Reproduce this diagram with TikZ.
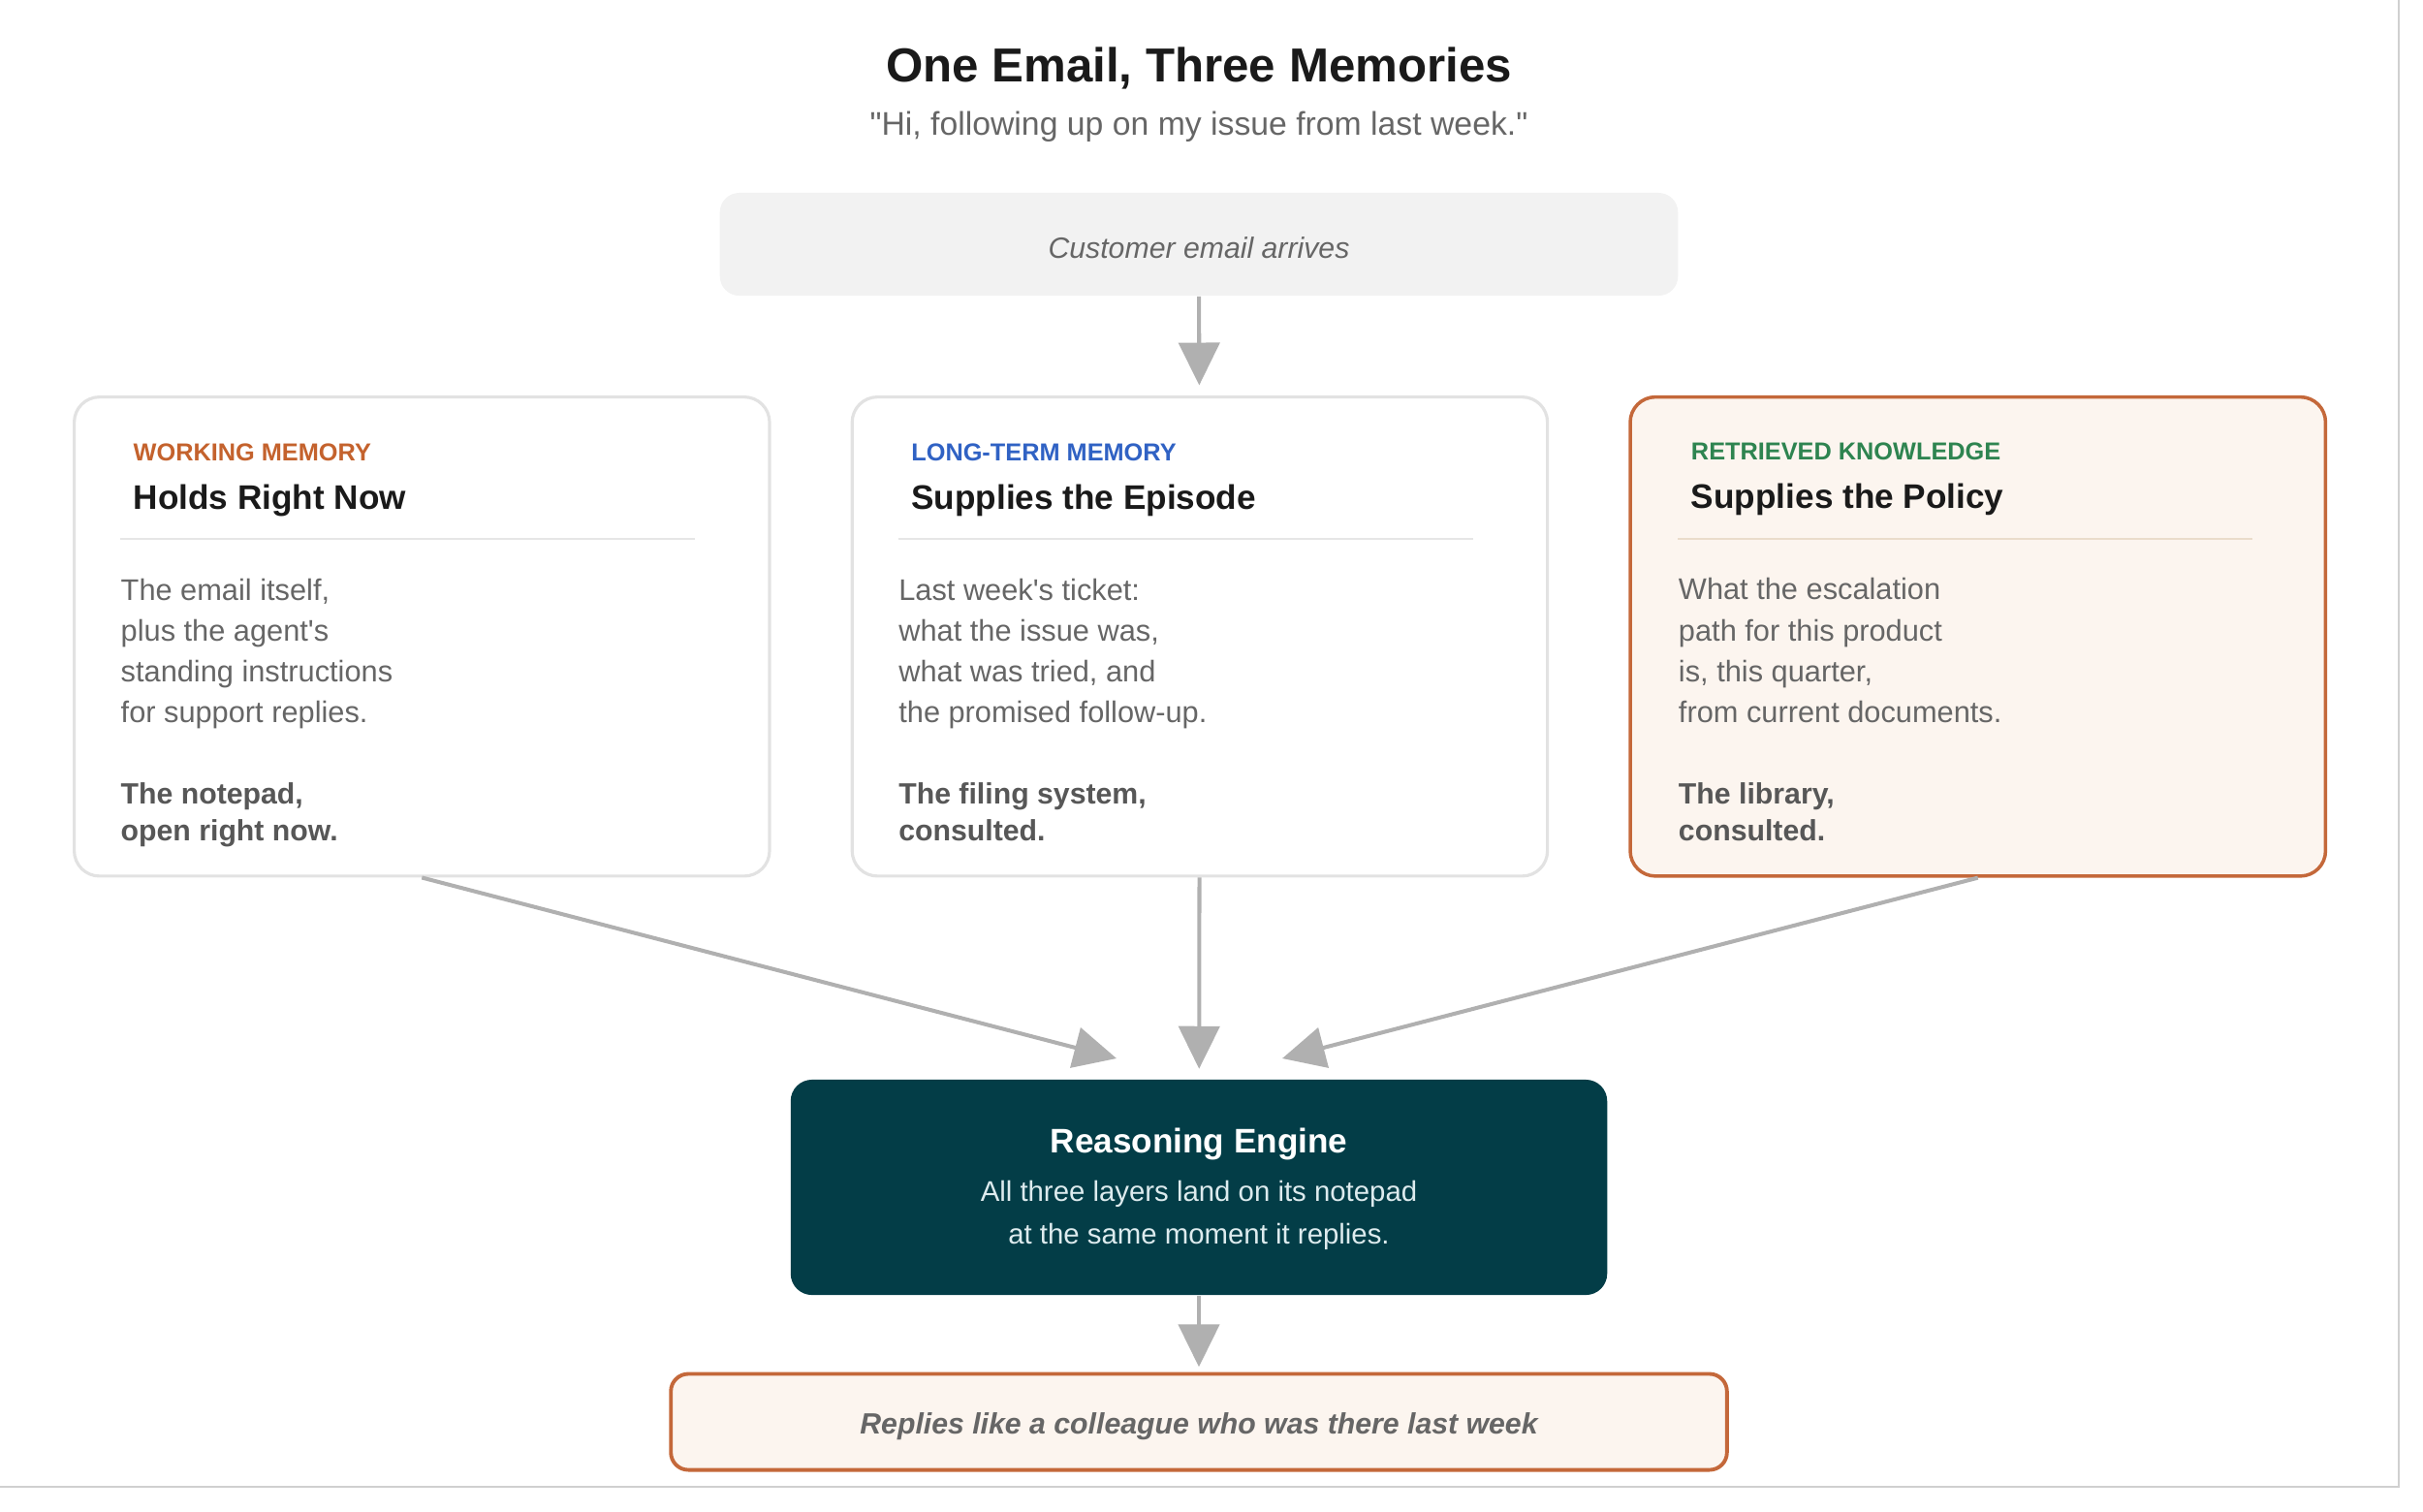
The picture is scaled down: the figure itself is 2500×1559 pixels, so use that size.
\documentclass[tikz,border=0pt]{standalone}
\usepackage{fontspec}
\setmainfont{Liberation Sans}
\usetikzlibrary{arrows.meta,positioning}

\definecolor{ink}{HTML}{1A1A1A}
\definecolor{muted}{HTML}{666666}
\definecolor{footgray}{HTML}{575757}
\definecolor{cardline}{HTML}{E2E2E2}
\definecolor{rust}{HTML}{C4683A}
\definecolor{rustfill}{HTML}{FCF5EF}
\definecolor{wmcol}{HTML}{C4622D}
\definecolor{ltcol}{HTML}{3062C4}
\definecolor{rkcol}{HTML}{2E8450}
\definecolor{engfill}{HTML}{033D47}
\definecolor{engtext}{HTML}{DDEBEE}
\definecolor{arrowgray}{HTML}{B0B0B0}
\definecolor{emailfill}{HTML}{F2F2F2}
\definecolor{rulegray}{HTML}{E6E6E6}
\definecolor{rulebeige}{HTML}{EADCCB}
\definecolor{framegray}{HTML}{D0D0D0}

\begin{document}
\begin{tikzpicture}[x=0.01cm, y=-0.01cm,
	card/.style={draw=cardline, line width=0.9pt, fill=white, rounded corners=0.26cm,
		minimum width=7.17cm, minimum height=4.94cm, inner sep=0},
	tag/.style={anchor=base west, inner sep=0, font=\bfseries\fontsize{7.2}{9}\selectfont},
	head/.style={anchor=base west, inner sep=0, text=ink, font=\bfseries\fontsize{10}{12}\selectfont},
	body/.style={anchor=north west, inner sep=0, align=left, text=muted, font=\fontsize{8.75}{12}\selectfont},
	foot/.style={anchor=north west, inner sep=0, align=left, text=footgray, font=\bfseries\fontsize{8.6}{10.8}\selectfont},
	feed/.style={draw=arrowgray, line width=1.15pt, -{Triangle[length=12.5pt, width=12pt]}},
	]
	
	\useasboundingbox (0,0) rectangle (2500,1559);
	\draw[framegray, line width=0.6pt] (2475,0) -- (2475,1534) -- (0,1534);
	
	% heading
	\node[anchor=base, inner sep=0, text=ink, font=\bfseries\fontsize{14}{17}\selectfont] (title) at (1237,84) {One Email, Three Memories};
	\node[anchor=base, inner sep=0, text=muted, font=\fontsize{9.6}{12}\selectfont] (quote) at (1237,139) {\textquotedbl Hi, following up on my issue from last week.\textquotedbl};
	
	\node[fill=emailfill, rounded corners=0.2cm, minimum width=9.88cm, minimum height=1.06cm, inner sep=0] (email) at (1237,252) {};
	\node[anchor=base, inner sep=0, text=muted, font=\itshape\fontsize{8.6}{10}\selectfont] (emailText) at (1237,266) {Customer email arrives};
	
	% the three memories
	\node[card, anchor=north west] (wm) at (75,408) {};
	\node[card, right=0.82cm of wm] (lt) {};
	\node[card, right=0.82cm of lt, draw=rust, line width=1pt, fill=rustfill] (rk) {};
	
	\node[tag, text=wmcol] (wmTag) at ([shift={(62,67)}]wm.north west) {WORKING MEMORY};
	\node[head] (wmHead) at ([shift={(62,117)}]wm.north west) {Holds Right Now};
	\draw[rulegray, line width=0.6pt] ([shift={(49,148)}]wm.north west) -- ([shift={(642,148)}]wm.north west);
	\node[body] (wmBody) at ([shift={(49,188)}]wm.north west) {The email itself,\\plus the agent\textquotesingle s\\standing instructions\\for support replies.};
	\node[foot] (wmFoot) at ([shift={(49,399)}]wm.north west) {The notepad,\\open right now.};
	
	\node[tag, text=ltcol] (ltTag) at ([shift={(62,67)}]lt.north west) {LONG-TERM MEMORY};
	\node[head] (ltHead) at ([shift={(62,117)}]lt.north west) {Supplies the Episode};
	\draw[rulegray, line width=0.6pt] ([shift={(49,148)}]lt.north west) -- ([shift={(642,148)}]lt.north west);
	\node[body] (ltBody) at ([shift={(49,188)}]lt.north west) {Last week\textquotesingle s ticket:\\what the issue was,\\what was tried, and\\the promised follow-up.};
	\node[foot] (ltFoot) at ([shift={(49,399)}]lt.north west) {The filing system,\\consulted.};
	
	\node[tag, text=rkcol] (rkTag) at ([shift={(64,67)}]rk.north west) {RETRIEVED KNOWLEDGE};
	\node[head] (rkHead) at ([shift={(64,117)}]rk.north west) {Supplies the Policy};
	\draw[rulebeige, line width=0.6pt] ([shift={(51,148)}]rk.north west) -- ([shift={(644,148)}]rk.north west);
	\node[body] (rkBody) at ([shift={(51,188)}]rk.north west) {What the escalation\\path for this product\\is, this quarter,\\from current documents.};
	\node[foot] (rkFoot) at ([shift={(51,399)}]rk.north west) {The library,\\consulted.};
	
	% engine and result
	\node[fill=engfill, rounded corners=0.22cm, minimum width=8.42cm, minimum height=2.22cm, inner sep=0] (eng) at (1237,1225) {};
	\node[anchor=base, inner sep=0, text=white, font=\bfseries\fontsize{10}{12}\selectfont] (engName) at (1237,1189) {Reasoning Engine};
	\node[anchor=base, inner sep=0, text=engtext, font=\fontsize{8.35}{12}\selectfont] (engNoteA) at (1237,1239) {All three layers land on its notepad};
	\node[anchor=base, inner sep=0, text=engtext, font=\fontsize{8.35}{12}\selectfont] (engNoteB) at (1237,1283) {at the same moment it replies.};
	
	\node[draw=rust, line width=1.1pt, fill=rustfill, rounded corners=0.18cm, minimum width=10.89cm, minimum height=0.99cm, inner sep=0] (reply) at (1237,1467) {};
	\node[anchor=base, inner sep=0, text=muted, font=\bfseries\itshape\fontsize{8.6}{10}\selectfont] (replyText) at (1237,1479) {Replies like a colleague who was there last week};
	
	\coordinate (inW) at (1152,1092);
	\coordinate (inR) at (1323,1092);
	
	\draw[feed, shorten >=3pt] (email) -- (lt);
	\draw[feed] (wm.south) -- (inW);
	\draw[feed, shorten >=3pt] (lt) -- (eng);
	\draw[feed] (rk.south) -- (inR);
	\draw[feed, shorten >=1.5pt] (eng) -- (reply);
\end{tikzpicture}
\end{document}
